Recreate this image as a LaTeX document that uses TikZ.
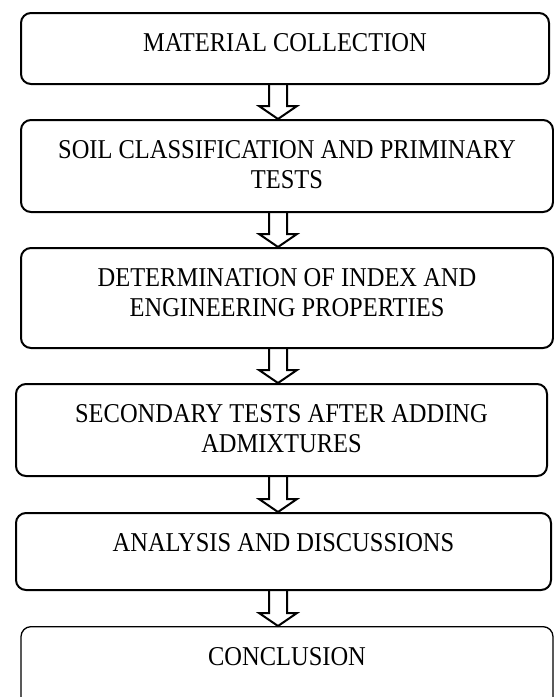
\documentclass[tikz,border=0pt]{standalone}
\usepackage{fontspec}
\setmainfont{Liberation Serif}[FakeStretch=0.9]
\usetikzlibrary{calc,positioning}

\newcommand{\flowarrow}[2]{%
  \draw[hollow] ([xshift=-9pt]spine |- #1.south)
    -- ($(spine |- #2.north)+(-9,-13)$) -- ++(-10,0)
    -- (spine |- #2.north)
    -- ($(spine |- #2.north)+(19,-13)$) -- ++(-10,0)
    -- ([xshift=9pt]spine |- #1.south);}

\begin{document}
\begin{tikzpicture}[x=1pt,y=-1pt,
  stage/.style={draw,line width=2pt,rounded corners=10pt,anchor=north,inner sep=0pt},
  stagetext/.style={align=center,inner sep=0pt,font=\fontsize{27.2}{30}\selectfont},
  hollow/.style={line width=2pt,line join=miter}]
  \useasboundingbox (0,0) rectangle (554,697);
  \coordinate (spine) at (278,0);

  \node[stage,minimum width=528pt,minimum height=71pt] (collect) at (285,12) {};
  \node[stage,minimum width=532pt,minimum height=92pt] (classify) at (287,119) {};
  \node[stage,minimum width=532pt,minimum height=100pt] (props) at (287,247) {};
  \node[stage,minimum width=531pt,minimum height=92pt] (secondary) at (281.5,383) {};
  \node[stage,minimum width=535pt,minimum height=77pt] (analysis) at (283.5,512) {};
  \node[stage,line width=1.3pt,minimum width=532pt,minimum height=80pt] (conclude) at (287,626) {};

  \node[stagetext,below=21.5pt of collect.north] (collect-t) {MATERIAL COLLECTION};
  \node[stagetext,below=21.5pt of classify.north] (classify-t) {SOIL CLASSIFICATION AND PRIMINARY\\TESTS};
  \node[stagetext,below=21.5pt of props.north] (props-t) {DETERMINATION OF INDEX AND\\ENGINEERING PROPERTIES};
  \node[stagetext,below=21.5pt of secondary.north] (secondary-t) {SECONDARY TESTS AFTER ADDING\\ADMIXTURES};
  \node[stagetext,below=21.5pt of analysis.north] (analysis-t) {ANALYSIS AND DISCUSSIONS};
  \node[stagetext,below=21.5pt of conclude.north] (conclude-t) {CONCLUSION};

  \flowarrow{collect}{classify}
  \flowarrow{classify}{props}
  \flowarrow{props}{secondary}
  \flowarrow{secondary}{analysis}
  \flowarrow{analysis}{conclude}
\end{tikzpicture}
\end{document}
